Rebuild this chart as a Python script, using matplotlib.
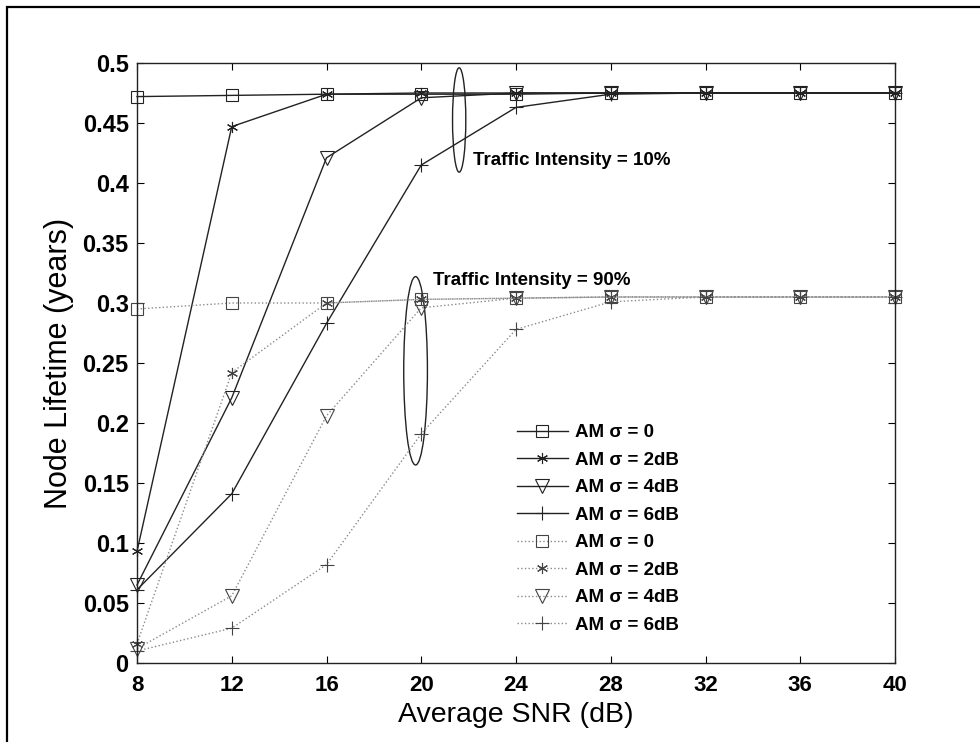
import matplotlib.pyplot as plt
import numpy as np
from matplotlib.patches import Ellipse, Rectangle

plt.rcParams['font.family'] = ['Liberation Sans', 'DejaVu Sans']

snr = [8, 12, 16, 20, 24, 28, 32, 36, 40]

# Traffic intensity 10 %
t10_s0 = [0.472, 0.473, 0.474, 0.474, 0.474, 0.475, 0.475, 0.475, 0.475]
t10_s2 = [0.093, 0.447, 0.474, 0.475, 0.475, 0.475, 0.475, 0.475, 0.475]
t10_s4 = [0.065, 0.221, 0.421, 0.471, 0.475, 0.475, 0.475, 0.475, 0.475]
t10_s6 = [0.061, 0.141, 0.283, 0.415, 0.463, 0.474, 0.475, 0.475, 0.475]

# Traffic intensity 90 %
t90_s0 = [0.295, 0.300, 0.300, 0.303, 0.304, 0.305, 0.305, 0.305, 0.305]
t90_s2 = [0.016, 0.242, 0.300, 0.303, 0.304, 0.305, 0.305, 0.305, 0.305]
t90_s4 = [0.012, 0.056, 0.206, 0.296, 0.304, 0.305, 0.305, 0.305, 0.305]
t90_s6 = [0.010, 0.029, 0.082, 0.191, 0.278, 0.301, 0.305, 0.305, 0.305]

labels = ['AM σ = 0', 'AM σ = 2dB', 'AM σ = 4dB', 'AM σ = 6dB']
markers = ['s', (6, 2, 0), 'v', '+']
sizes = [9, 8, 10, 10]

fig = plt.figure(figsize=(9.8, 7.42), dpi=100)
ax = fig.add_axes([0.1398, 0.1065, 0.7735, 0.8086])

dark = '#222222'
grey = '#8a8a8a'

for ys, m, ms, lab in zip([t10_s0, t10_s2, t10_s4, t10_s6], markers, sizes, labels):
    ax.plot(snr, ys, color=dark, linestyle='-', linewidth=1.0, marker=m,
            markersize=ms, markerfacecolor='none', markeredgecolor=dark,
            markeredgewidth=0.8, label=lab, clip_on=False)

for ys, m, ms, lab in zip([t90_s0, t90_s2, t90_s4, t90_s6], markers, sizes, labels):
    ax.plot(snr, ys, color=grey, linestyle=':', linewidth=1.0, marker=m,
            markersize=ms, markerfacecolor='none', markeredgecolor='#444444',
            markeredgewidth=0.8, label=lab, clip_on=False)

# annotation ellipses
ax.add_patch(Ellipse((21.6, 0.4525), 0.56, 0.087, fill=False,
                     edgecolor=dark, linewidth=1.0))
ax.add_patch(Ellipse((19.76, 0.2435), 1.0, 0.157, fill=False,
                     edgecolor=dark, linewidth=1.0))
ax.text(22.2, 0.419, 'Traffic Intensity = 10%', fontsize=13.5,
        fontweight='bold', va='center', ha='left')
ax.text(20.5, 0.319, 'Traffic Intensity = 90%', fontsize=13.5,
        fontweight='bold', va='center', ha='left')

ax.set_xlim(8, 40)
ax.set_ylim(0, 0.5)
ax.set_xticks(snr)
ax.set_xticklabels([str(v) for v in snr])
yt = np.round(np.arange(0, 0.501, 0.05), 2)
ax.set_yticks(yt)
ax.set_yticklabels(['0' if v == 0 else ('%g' % v) for v in yt])
ax.tick_params(direction='in', top=True, right=True, length=5, width=0.8)
ax.tick_params(axis='x', labelsize=16, pad=9)
ax.tick_params(axis='y', labelsize=17, pad=6)
for lbl in ax.get_xticklabels() + ax.get_yticklabels():
    lbl.set_fontweight('bold')
for sp in ax.spines.values():
    sp.set_linewidth(1.0)
    sp.set_color(dark)

ax.set_xlabel('Average SNR (dB)', fontsize=20.5, labelpad=4)
ax.set_ylabel('Node Lifetime (years)', fontsize=22, labelpad=6)

leg = ax.legend(loc='lower left', bbox_to_anchor=(0.479, 0.021), frameon=False,
                prop={'size': 13.5, 'weight': 'bold'}, handlelength=2.7,
                handletextpad=0.4, labelspacing=0.55)

# outer frame around the figure
fig.patches.append(Rectangle((7 / 980, -0.1), 1.2, 1 - 7 / 742 + 0.1,
                             transform=fig.transFigure, fill=False,
                             edgecolor='black', linewidth=1.6))

fig.savefig('out.png', dpi=100)
